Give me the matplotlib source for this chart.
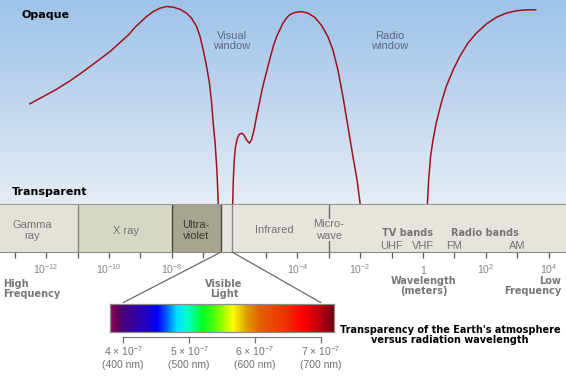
import numpy as np
import matplotlib
matplotlib.use("Agg")
import matplotlib.pyplot as plt
from matplotlib.colors import LinearSegmentedColormap, Normalize
from matplotlib.patches import ConnectionPatch
from matplotlib.ticker import NullLocator

plt.rcParams['font.family'] = ['Liberation Sans', 'DejaVu Sans']
plt.rcParams['mathtext.default'] = 'regular'

W, H = 566, 379

# opacity of the atmosphere, three pieces between the windows
# x: log10(wavelength in m), y: 0 = transparent, 1 = opaque
high_log = [-12.54, -12.09, -11.67, -11.24, -10.82, -10.39, -9.97, -9.65, -9.38, -9.17,
            -9.01, -8.80, -8.59, -8.38, -8.16, -7.95, -7.74, -7.53, -7.37, -7.21,
            -7.10, -7.00, -6.89, -6.80, -6.73, -6.68, -6.62, -6.57, -6.54, -6.52]
high_opacity = [0.509, 0.548, 0.585, 0.628, 0.675, 0.726, 0.777, 0.823, 0.862, 0.901,
                0.925, 0.956, 0.981, 0.998, 1.007, 1.003, 0.993, 0.973, 0.947, 0.905,
                0.854, 0.786, 0.701, 0.616, 0.514, 0.412, 0.310, 0.190, 0.088, 0.0]

ir_log = [-6.06, -6.04, -6.01, -5.97, -5.91, -5.85, -5.77, -5.70, -5.62, -5.53,
          -5.46, -5.38, -5.30, -5.19, -5.09, -4.98, -4.87, -4.77, -4.66, -4.55,
          -4.46, -4.35, -4.25, -4.09, -3.87, -3.66, -3.45, -3.24, -3.03, -2.87,
          -2.71, -2.55, -2.39, -2.23, -2.10, -2.00]
ir_opacity = [0.0, 0.122, 0.224, 0.293, 0.335, 0.355, 0.361, 0.352, 0.327, 0.310,
              0.327, 0.378, 0.446, 0.531, 0.607, 0.675, 0.743, 0.803, 0.854, 0.891,
              0.922, 0.947, 0.964, 0.976, 0.981, 0.973, 0.952, 0.913, 0.854, 0.786,
              0.684, 0.548, 0.395, 0.241, 0.122, 0.0]

low_log = [0.14, 0.18, 0.24, 0.32, 0.42, 0.58, 0.74, 0.96, 1.17, 1.43,
           1.70, 2.02, 2.34, 2.65, 2.97, 3.29, 3.61]
low_opacity = [0.0, 0.122, 0.241, 0.327, 0.412, 0.514, 0.599, 0.684, 0.752, 0.820,
               0.871, 0.918, 0.952, 0.973, 0.985, 0.990, 0.990]

# spectrum bands (log10 wavelength edges): gamma, x ray, uv, visible, infrared..radio
band_edges = [-13.5, -11.0, -8.0, -6.43, -6.08, 4.6]
band_colors = ['#e3e1d9', '#d7d7c5', '#a7a58f', '#e6e6e2', '#e6e4dc']

tick_exp = [-13, -12, -11, -10, -9, -8, -7, -5, -4, -3, -2, -1, 0, 1, 2, 3, 4]
label_exp = [-12, -10, -8, -4, -2, 0, 2, 4]

# visible light strip (nm)
vis_range = [380, 720]
vis_ticks = [400, 500, 600, 700]
spec_nm = [380, 390, 405, 436, 451, 466, 481, 496, 521, 547, 567, 587, 608, 648, 673, 698, 720]
spec_col = ['#a0005a', '#60005a', '#40008a', '#2000c8', '#0000ff', '#0060ff', '#00e0ff',
            '#00ffd0', '#00ff20', '#80ff00', '#ffff00', '#e0a000', '#e06000', '#f03000',
            '#ff0000', '#c00010', '#700010']


def rect(x0, y0, x1, y1):
    return [x0 / W, 1 - y1 / H, (x1 - x0) / W, (y1 - y0) / H]


def fpos(x, y):
    return x / W, 1 - y / H


fig = plt.figure(figsize=(W / 100, H / 100), dpi=100)
fig.patch.set_facecolor('white')
xlim = (10 ** -13.47, 10 ** 4.554)

# sky gradient
ax_bg = fig.add_axes(rect(0, 0, W, 204))
sky = LinearSegmentedColormap.from_list('sky', ['#9ec3e9', '#c0d6ee', '#e6edf5'])
ax_bg.imshow(np.linspace(0, 1, 256).reshape(-1, 1), aspect='auto', cmap=sky,
             extent=(0, 1, 0, 1))
ax_bg.axis('off')

# opacity curve
ax_top = fig.add_axes(rect(0, 0, W, 204))
ax_top.patch.set_alpha(0)
ax_top.set_xscale('log')
for lg, op in [(high_log, high_opacity), (ir_log, ir_opacity), (low_log, low_opacity)]:
    ax_top.plot(10.0 ** np.array(lg), op, color='#a0121e', lw=1.1,
                solid_joinstyle='round', solid_capstyle='butt')
ax_top.set_xlim(*xlim)
ax_top.set_ylim(0, 1.04)
ax_top.axis('off')

bold = dict(family='DejaVu Sans', weight='bold')
fig.text(*fpos(21, 15), 'Opaque', ha='left', va='center', size=8, color='black', **bold)
fig.text(*fpos(12, 192), 'Transparent', ha='left', va='center', size=8, color='black', **bold)
fig.text(*fpos(232, 41), 'Visual\nwindow', ha='center', va='center', size=8,
         color='#5d6a80', linespacing=1.1)
fig.text(*fpos(390, 41), 'Radio\nwindow', ha='center', va='center', size=8,
         color='#5d6a80', linespacing=1.1)

# band strip
ax_band = fig.add_axes(rect(0, 204, W, 252))
ax_band.set_xscale('log')
for lo, hi, c in zip(band_edges[:-1], band_edges[1:], band_colors):
    ax_band.axvspan(10 ** lo, 10 ** hi, color=c, lw=0)
ax_band.axvline(10 ** band_edges[1], color='#85857a', lw=1)
ax_band.axvline(10 ** band_edges[2], color='#4a4a40', lw=1)
ax_band.axvline(10 ** band_edges[3], color='#4a4a40', lw=1)
ax_band.axvline(10 ** band_edges[4], color='#8a8a8a', lw=1)
ax_band.axvline(10 ** -3, color='#6a6a6a', lw=1)
ax_band.set_xlim(*xlim)
ax_band.set_ylim(0, 1)
ax_band.set_yticks([])
ax_band.set_xticks([10.0 ** e for e in tick_exp])
ax_band.set_xticklabels(['' if e not in label_exp else ('1' if e == 0 else r'$10^{%d}$' % e)
                         for e in tick_exp])
ax_band.xaxis.set_minor_locator(NullLocator())
ax_band.tick_params(axis='x', length=4.5, width=0.9, color='#5a5a5a', labelsize=7.5,
                    labelcolor='#858585', pad=11.5)
for t in ax_band.get_xticklabels():
    t.set_va('baseline')
for s in ['left', 'right']:
    ax_band.spines[s].set_visible(False)
ax_band.spines['top'].set_color('#9a9a9a')
ax_band.spines['bottom'].set_color('#8a8a8a')

lab = dict(ha='center', va='center', size=8, color='#747474', linespacing=1.15)
ax_band.text(10 ** -12.45, 0.44, 'Gamma\nray', **lab)
ax_band.text(10 ** -9.46, 0.44, 'X ray', **lab)
ax_band.text(10 ** -7.23, 0.44, 'Ultra-\nviolet', **dict(lab, color='#3a3a30'))
ax_band.text(10 ** -4.75, 0.45, 'Infrared', **lab)
ax_band.text(10 ** -3.0, 0.46, 'Micro-\nwave', **lab,
             bbox=dict(facecolor=band_colors[-1], edgecolor='none', pad=0.5))
blab = dict(ha='center', va='center', size=7, color='#767676', **bold)
ax_band.text(10 ** -0.48, 0.40, 'TV bands', **blab)
ax_band.text(10 ** 1.97, 0.40, 'Radio bands', **blab)
for e, name in zip([-1, 0, 1, 3], ['UHF', 'VHF', 'FM', 'AM']):
    ax_band.text(10.0 ** e, 0.13, name, **lab)

gb = dict(size=7, color='#767676', linespacing=1.0, **bold)
fig.text(*fpos(3, 289), 'High\nFrequency', ha='left', va='center', **gb)
fig.text(*fpos(224, 289), 'Visible\nLight', ha='center', va='center', **gb)
fig.text(*fpos(424, 286), 'Wavelength\n(meters)', ha='center', va='center', **gb)
fig.text(*fpos(561, 286), 'Low\nFrequency', ha='right', va='center', multialignment='right', **gb)

# visible spectrum strip
ax_spec = fig.add_axes(rect(110, 304, 334, 332))
spec_cmap = LinearSegmentedColormap.from_list(
    'spec', [((n - vis_range[0]) / (vis_range[1] - vis_range[0]), c) for n, c in zip(spec_nm, spec_col)])
nm = np.arange(vis_range[0], vis_range[1] + 1)
ax_spec.imshow(nm[None, :], aspect='auto', cmap=spec_cmap, norm=Normalize(*vis_range),
               extent=(vis_range[0], vis_range[1], 0, 1))
ax_spec.set_xlim(*vis_range)
ax_spec.set_xticks([])
ax_spec.set_yticks([])
for s in ax_spec.spines.values():
    s.set_color('#8c8c8c')
    s.set_linewidth(0.9)

ax_scale = fig.add_axes(rect(110, 337, 334, 343))
ax_scale.patch.set_alpha(0)
ax_scale.set_xlim(*vis_range)
ax_scale.set_yticks([])
for s in ['left', 'right', 'bottom']:
    ax_scale.spines[s].set_visible(False)
ax_scale.spines['top'].set_bounds(vis_ticks[0], vis_ticks[-1])
ax_scale.spines['top'].set_color('#707070')
ax_scale.set_xticks(vis_ticks)
ax_scale.set_xticklabels([r'%d $\times$ 10$^{-7}$' % (n // 100) + '\n(%d nm)' % n for n in vis_ticks])
ax_scale.tick_params(axis='x', top=True, bottom=False, direction='in', length=4.5,
                     width=0.9, color='#707070', labelsize=7.5, labelcolor='#707070', pad=1)
ax_scale.xaxis.set_minor_locator(NullLocator())

# fan lines from visible band to spectrum
for edge, n in zip(band_edges[3:5], [vis_ticks[0], vis_ticks[-1]]):
    con = ConnectionPatch(xyA=(10 ** edge, 0), coordsA=ax_band.transData,
                          xyB=(n, 1.05), coordsB=ax_spec.transData,
                          color='#6a6a6a', lw=0.9)
    fig.add_artist(con)

fig.text(*fpos(450, 335), "Transparency of the Earth's atmosphere\nversus radiation wavelength",
         ha='center', va='center', size=7, color='black', linespacing=1.05, **bold)

fig.savefig('out.png', dpi=100)
